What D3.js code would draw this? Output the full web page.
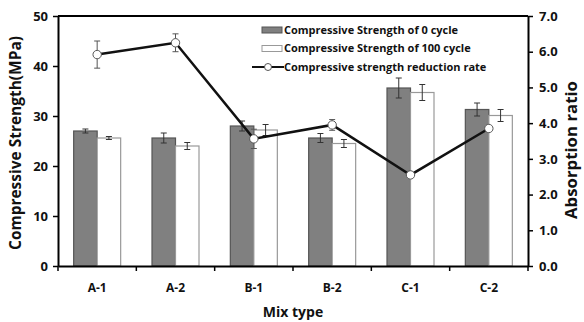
<!DOCTYPE html>
<html>
<head>
<meta charset="utf-8">
<script src="https://cdnjs.cloudflare.com/ajax/libs/d3/7.8.5/d3.min.js"></script>
<style>
  body { margin: 0; background: #fff; }
  svg text { font-family: "Open Sans", sans-serif; font-weight: bold; fill: #111; }
</style>
</head>
<body>
<svg id="chart"></svg>
<script>
// data
var mixTypes = ["A-1", "A-2", "B-1", "B-2", "C-1", "C-2"];
var strength0 = [27.0, 25.6, 28.0, 25.6, 35.6, 31.3];
var strength0Err = [0.4, 1.0, 1.0, 0.9, 2.0, 1.3];
var strength100 = [25.6, 24.0, 27.2, 24.5, 34.7, 30.1];
var strength100Err = [0.3, 0.7, 1.1, 0.8, 1.6, 1.2];
var reduction = [5.92, 6.25, 3.56, 3.95, 2.55, 3.85];
var reductionErr = [0.38, 0.25, 0.27, 0.15, 0, 0];
var leftTicks = [0, 10, 20, 30, 40, 50];
var rightTicks = [0, 1, 2, 3, 4, 5, 6, 7];
var legendLabels = ["Compressive Strength of 0 cycle", "Compressive Strength of 100 cycle", "Compressive strength reduction rate"];

var margin = {top: 16, right: 56, bottom: 56, left: 58};
var width = 584 - margin.left - margin.right;
var height = 322 - margin.top - margin.bottom;

var svg = d3.select("#chart")
    .attr("width", 584)
    .attr("height", 322)
    .append("g")
    .attr("transform", "translate(" + margin.left + "," + margin.top + ")");

var x = d3.scaleBand().domain(mixTypes).range([0, width]);
var xSub = d3.scaleBand().domain([0, 1]).range([0, 47]);
var yLeft = d3.scaleLinear().domain([0, 50]).range([height, 0]);
var yRight = d3.scaleLinear().domain([0, 7]).range([height, 0]);

var barOffset = (x.bandwidth() - 47) / 2;

// bars
var series = [
    {vals: strength0, errs: strength0Err, fill: "#808080", stroke: "#555"},
    {vals: strength100, errs: strength100Err, fill: "#fff", stroke: "#999"}
];
series.forEach(function (s, si) {
    var g = svg.append("g");
    g.selectAll("rect").data(mixTypes).enter().append("rect")
        .attr("x", function (d) { return x(d) + barOffset + xSub(si); })
        .attr("y", function (d, i) { return yLeft(s.vals[i]); })
        .attr("width", xSub.bandwidth())
        .attr("height", function (d, i) { return height - yLeft(s.vals[i]); })
        .attr("fill", s.fill)
        .attr("stroke", s.stroke)
        .attr("stroke-width", 1.2);
    var eb = g.selectAll("g.err").data(mixTypes).enter().append("g")
        .attr("stroke", "#333").attr("stroke-width", 1);
    eb.append("line")
        .attr("x1", function (d) { return x(d) + barOffset + xSub(si) + xSub.bandwidth() / 2; })
        .attr("x2", function (d) { return x(d) + barOffset + xSub(si) + xSub.bandwidth() / 2; })
        .attr("y1", function (d, i) { return yLeft(s.vals[i] - s.errs[i]); })
        .attr("y2", function (d, i) { return yLeft(s.vals[i] + s.errs[i]); });
    [-1, 1].forEach(function (sign) {
        eb.append("line")
            .attr("x1", function (d) { return x(d) + barOffset + xSub(si) + xSub.bandwidth() / 2 - 3; })
            .attr("x2", function (d) { return x(d) + barOffset + xSub(si) + xSub.bandwidth() / 2 + 3; })
            .attr("y1", function (d, i) { return yLeft(s.vals[i] + sign * s.errs[i]); })
            .attr("y2", function (d, i) { return yLeft(s.vals[i] + sign * s.errs[i]); });
    });
});

// reduction rate line
var cx = function (d) { return x(d) + x.bandwidth() / 2; };
var line = d3.line()
    .x(function (d) { return cx(d); })
    .y(function (d, i) { return yRight(reduction[i]); });
svg.append("path")
    .datum(mixTypes)
    .attr("d", line)
    .attr("fill", "none")
    .attr("stroke", "#111")
    .attr("stroke-width", 2.5);

var le = svg.append("g").attr("stroke", "#555").attr("stroke-width", 1);
le.selectAll("line.v").data(mixTypes).enter().append("line")
    .attr("x1", cx).attr("x2", cx)
    .attr("y1", function (d, i) { return yRight(reduction[i] - reductionErr[i]); })
    .attr("y2", function (d, i) { return yRight(reduction[i] + reductionErr[i]); });
[-1, 1].forEach(function (sign) {
    le.selectAll("line.c" + sign).data(mixTypes.filter(function (d, i) { return reductionErr[i] > 0; }))
        .enter().append("line")
        .attr("x1", function (d) { return cx(d) - 3; })
        .attr("x2", function (d) { return cx(d) + 3; })
        .attr("y1", function (d) { var i = mixTypes.indexOf(d); return yRight(reduction[i] + sign * reductionErr[i]); })
        .attr("y2", function (d) { var i = mixTypes.indexOf(d); return yRight(reduction[i] + sign * reductionErr[i]); });
});

svg.selectAll("circle.pt").data(mixTypes).enter().append("circle")
    .attr("cx", cx)
    .attr("cy", function (d, i) { return yRight(reduction[i]); })
    .attr("r", 4.2)
    .attr("fill", "#fff")
    .attr("stroke", "#555")
    .attr("stroke-width", 1);

// axes
var xAxis = svg.append("g")
    .attr("transform", "translate(0," + height + ")")
    .call(d3.axisBottom(x).tickSize(0).tickPadding(17));
xAxis.selectAll("text").style("font-size", "12px").attr("fill", "#111");
xAxis.select(".domain").attr("stroke-width", 2);
xAxis.selectAll(".boundary").data(d3.range(mixTypes.length + 1)).enter().append("line")
    .attr("x1", function (i) { return i * x.step(); })
    .attr("x2", function (i) { return i * x.step(); })
    .attr("y1", 0).attr("y2", 5)
    .attr("stroke", "#000").attr("stroke-width", 1.5);

var leftAxis = svg.append("g")
    .call(d3.axisLeft(yLeft).tickValues(leftTicks).tickSize(5).tickSizeOuter(0).tickPadding(5));
leftAxis.selectAll("text").style("font-size", "13px").attr("fill", "#111");
leftAxis.select(".domain").attr("stroke-width", 2);
leftAxis.selectAll(".tick line").attr("stroke-width", 1.5);

var rightAxis = svg.append("g")
    .attr("transform", "translate(" + width + ",0)")
    .call(d3.axisRight(yRight).tickValues(rightTicks).tickFormat(d3.format(".1f")).tickSize(5).tickSizeOuter(0).tickPadding(6));
rightAxis.selectAll("text").style("font-size", "13px").attr("fill", "#111");
rightAxis.select(".domain").attr("stroke-width", 2);
rightAxis.selectAll(".tick line").attr("stroke-width", 1.5);

svg.append("line")
    .attr("x1", 0).attr("x2", width)
    .attr("y1", 0).attr("y2", 0)
    .attr("stroke", "#000").attr("stroke-width", 2);

// axis titles, sized to the lengths seen in the reference
function fitTitle(t, target) {
    var len = t.node().getComputedTextLength();
    t.style("font-size", (13 * target / len).toFixed(2) + "px");
}
var leftTitle = svg.append("text")
    .attr("transform", "translate(" + (-37) + "," + (height / 2 + 2) + ") rotate(-90)")
    .attr("text-anchor", "middle")
    .style("font-size", "13px")
    .text("Compressive Strength(MPa)");
fitTitle(leftTitle, 214);
var rightTitle = svg.append("text")
    .attr("transform", "translate(" + (width + 49) + "," + (height / 2 + 9) + ") rotate(-90)")
    .attr("text-anchor", "middle")
    .style("font-size", "13px")
    .text("Absorption ratio");
fitTitle(rightTitle, 138);
svg.append("text")
    .attr("x", width / 2)
    .attr("y", height + 51)
    .attr("text-anchor", "middle")
    .style("font-size", "14px")
    .text("Mix type");

// legend
var legend = svg.append("g").attr("transform", "translate(204,14)");
var rows = legend.selectAll("g").data(legendLabels).enter().append("g")
    .attr("transform", function (d, i) { return "translate(0," + i * 18.5 + ")"; });
rows.each(function (d, i) {
    var r = d3.select(this);
    if (i < 2) {
        r.append("rect")
            .attr("x", 0).attr("y", -3).attr("width", 20).attr("height", 6)
            .attr("fill", series[i].fill).attr("stroke", series[i].stroke).attr("stroke-width", 1);
    } else {
        r.append("line").attr("x1", -10).attr("x2", 22).attr("y1", 0).attr("y2", 0)
            .attr("stroke", "#111").attr("stroke-width", 2);
        r.append("circle").attr("cx", 6).attr("cy", 0).attr("r", 3.5)
            .attr("fill", "#fff").attr("stroke", "#555");
    }
    r.append("text")
        .attr("x", 22).attr("y", 0).attr("dy", "0.35em")
        .style("font-size", "11px")
        .text(d);
});
</script>
</body>
</html>
